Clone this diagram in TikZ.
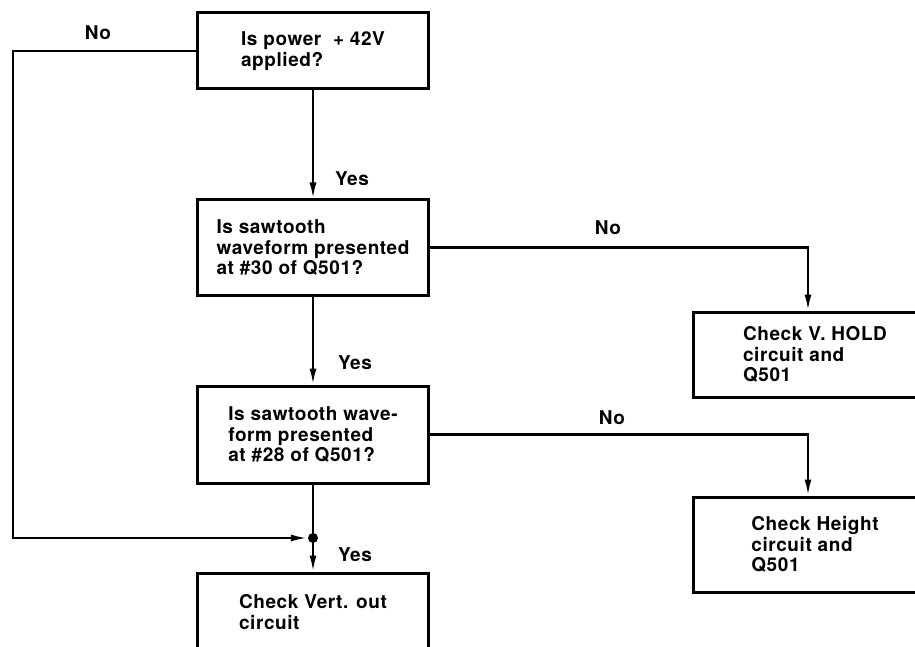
\documentclass[tikz,border=0pt]{standalone}
\usepackage{fontspec}
\setmainfont{TeX Gyre Heros}[LetterSpace=3.0]
\usetikzlibrary{arrows.meta}

\tikzset{
  box/.style={draw, line width=3pt, minimum width=231pt, align=left, inner sep=0pt,
    font=\fontsize{19}{20.5}\selectfont\bfseries},
  lbl/.style={font=\fontsize{19}{20.5}\selectfont\bfseries},
  dot/.style={circle, fill, inner sep=0pt, minimum size=10pt},
  flow/.style={-{Latex[length=16pt,width=7pt]}},
}

\begin{document}
\begin{tikzpicture}[x=1pt,y=-1pt,line width=2.2pt]
  % Set the picture's limits
  \useasboundingbox (0,0) rectangle (915,647);
  \clip (0,0) rectangle (915,647);
  % Add questions and checks
  \node[box,minimum height=76pt] (pwr) at (313,51) {Is power~ + 42V\\applied?};
  \node[box,minimum height=95pt] (saw30) at (313,247.5) {Is sawtooth\\waveform presented\\at \#30 of Q501?};
  \node[box,minimum height=97pt] (saw28) at (313,434.5) {Is sawtooth wave-\\form presented\\at \#28 of Q501?};
  \node[box,minimum height=78pt] (vout) at (313,612) {Check Vert. out\\circuit};
  \node[box,minimum width=244pt,minimum height=85pt] (hold) at (815,354.5) {Check V. HOLD\\circuit and\\Q501};
  \node[box,minimum width=244pt,minimum height=95pt] (hgt) at (815,544.5) {Check Height\\circuit and\\Q501};
  \node[dot] (jn) at (313,538) {};
  \coordinate (lft) at (13,51);
  % Add connectors
  \draw[flow] (pwr.south) -- (saw30.north);
  \draw[flow] (saw30.south) -- (saw28.north);
  \draw (saw28.south) -- (jn.center);
  \draw[flow] (jn.center) -- (vout.north);
  \draw[flow] (pwr.west) -- (lft) |- (jn);
  \draw[flow] (saw30.east) -| ([xshift=-7pt]hold.north);
  \draw[flow] (saw28.east) -| ([xshift=-7pt]hgt.north);
  % Add answers
  \node[lbl] (no1) at (98,33) {No};
  \node[lbl] (yes1) at (352,179) {Yes};
  \node[lbl] (yes2) at (355,363) {Yes};
  \node[lbl] (yes3) at (355,555) {Yes};
  \node[lbl] (no2) at (608,228) {No};
  \node[lbl] (no3) at (612,418) {No};
\end{tikzpicture}
\end{document}
